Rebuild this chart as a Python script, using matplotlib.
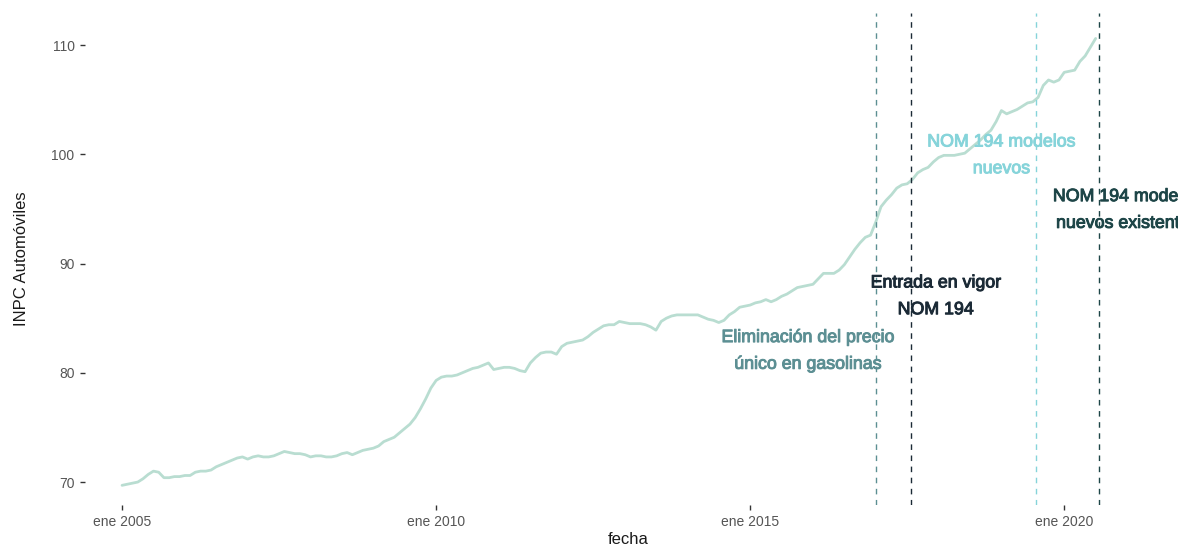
import numpy as np
import pandas as pd
import matplotlib
matplotlib.use("Agg")
import matplotlib.pyplot as plt
import matplotlib.patheffects as pe

plt.rcParams['font.family'] = ['Liberation Sans', 'DejaVu Sans']

# ---- data (INPC Automóviles, monthly, Jan 2005 - Jul 2020) ----
start_month = "2005-01-01"
v2005 = [69.7, 69.8, 69.9, 70.0, 70.3, 70.7, 71.0, 70.9, 70.4, 70.4, 70.5, 70.5]
v2006 = [70.6, 70.6, 70.9, 71.0, 71.0, 71.1, 71.4, 71.6, 71.8, 72.0, 72.2, 72.3]
v2007 = [72.1, 72.3, 72.4, 72.3, 72.3, 72.4, 72.6, 72.8, 72.7, 72.6, 72.6, 72.5]
v2008 = [72.3, 72.4, 72.4, 72.3, 72.3, 72.4, 72.6, 72.7, 72.5, 72.7, 72.9, 73.0]
v2009 = [73.1, 73.3, 73.7, 73.9, 74.1, 74.5, 74.9, 75.3, 75.9, 76.7, 77.6, 78.6]
v2010 = [79.3, 79.6, 79.7, 79.7, 79.8, 80.0, 80.2, 80.4, 80.5, 80.7, 80.9, 80.3]
v2011 = [80.4, 80.5, 80.5, 80.4, 80.2, 80.1, 80.9, 81.4, 81.8, 81.9, 81.9, 81.7]
v2012 = [82.4, 82.7, 82.8, 82.9, 83.0, 83.3, 83.7, 84.0, 84.3, 84.4, 84.4, 84.7]
v2013 = [84.6, 84.5, 84.5, 84.5, 84.4, 84.2, 83.9, 84.7, 85.0, 85.2, 85.3, 85.3]
v2014 = [85.3, 85.3, 85.3, 85.1, 84.9, 84.8, 84.6, 84.8, 85.3, 85.6, 86.0, 86.1]
v2015 = [86.2, 86.4, 86.5, 86.7, 86.5, 86.7, 87.0, 87.2, 87.5, 87.8, 87.9, 88.0]
v2016 = [88.1, 88.6, 89.1, 89.1, 89.1, 89.4, 89.9, 90.6, 91.3, 91.9, 92.4, 92.6]
v2017 = [93.8, 95.2, 95.8, 96.3, 96.9, 97.2, 97.3, 97.7, 98.3, 98.6, 98.8, 99.3]
v2018 = [99.7, 99.9, 99.9, 99.9, 100.0, 100.1, 100.5, 100.9, 101.3, 101.8, 102.2, 103.0]
v2019 = [104.0, 103.7, 103.9, 104.1, 104.4, 104.7, 104.8, 105.2, 106.3, 106.8, 106.6, 106.8]
v2020 = [107.5, 107.6, 107.7, 108.5, 109.0, 109.8, 110.6]

values = (v2005 + v2006 + v2007 + v2008 + v2009 + v2010 + v2011 + v2012 +
          v2013 + v2014 + v2015 + v2016 + v2017 + v2018 + v2019 + v2020)

# events
event_dates = ["2017-01-01", "2017-07-25", "2019-07-20", "2020-07-20"]
event_colors = ["#5c8f93", "#1b2a36", "#86d4da", "#1d4547"]
label_texts = ["Eliminación del precio\núnico en gasolinas",
               "Entrada en vigor\nNOM 194",
               "NOM 194 modelos\nnuevos",
               "NOM 194 modelos\nnuevos existentes"]
label_dates = ["2015-12-01", "2017-12-15", "2019-01-01", "2021-01-01"]
label_y = [82.0, 87.0, 99.9, 94.9]

x_ticks = ["2005-01-01", "2010-01-01", "2015-01-01", "2020-01-01"]
x_tick_labels = ["ene 2005", "ene 2010", "ene 2015", "ene 2020"]
y_ticks = [70, 80, 90, 100, 110]


def dec_year(d):
    d = pd.Timestamp(d)
    return d.year + (d.month - 1) / 12 + (d.day - 1) / 365.25


dates = pd.date_range(start_month, periods=len(values), freq="MS")
x = np.array([dec_year(d) for d in dates])

fig = plt.figure(figsize=(11.78, 5.5), dpi=100)
ax = fig.add_axes([85 / 1178, 45 / 550, (1171 - 85) / 1178, (537 - 45) / 550])

ax.plot(x, values, color="#b9ddd1", lw=2.0, solid_capstyle="round", zorder=2)

for d, c in zip(event_dates, event_colors):
    ax.axvline(dec_year(d), color=c, lw=1.0, ls=(0, (4, 4)), zorder=3)

for t, d, yv, c in zip(label_texts, label_dates, label_y, event_colors):
    ax.text(dec_year(d), yv, t, color=c, fontsize=12.8, ha="center", va="center",
            linespacing=1.75, zorder=4, clip_on=False,
            path_effects=[pe.withStroke(linewidth=0.7, foreground=c)])

ax.set_xlim(2004.41, 2021.70)
ax.set_ylim(67.9, 112.93)

ax.set_xticks([dec_year(d) for d in x_ticks])
ax.set_xticklabels(x_tick_labels)
ax.set_yticks(y_ticks)
ax.set_yticklabels([str(v) for v in y_ticks])

for s in ax.spines.values():
    s.set_visible(False)
ax.tick_params(axis="both", length=3.5, width=1.0, color="#333333",
               labelcolor="#555555", labelsize=10, pad=4)

ax.set_xlabel("fecha", fontsize=12, color="#1a1a1a", labelpad=2)
ax.set_ylabel("INPC Automóviles", fontsize=12, color="#1a1a1a", labelpad=16)

fig.savefig("out.png", dpi=100)
